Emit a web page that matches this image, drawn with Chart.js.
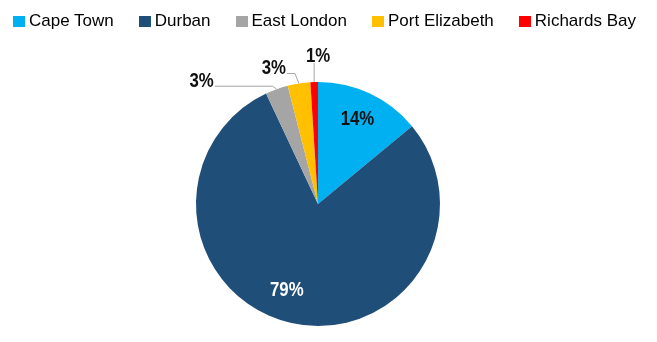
<!DOCTYPE html>
<html>
<head>
<meta charset="utf-8">
<script src="https://cdn.jsdelivr.net/npm/chart.js@4"></script>
<style>
  html, body { margin: 0; padding: 0; background: #fff; }
  #wrap { position: relative; width: 657px; height: 342px; }
  #portLegend {
       position: absolute; left: 13px; top: 11px;
       display: flex; align-items: center;
       font-family: 'Liberation Sans', Arial, sans-serif; font-size: 17px; line-height: 20px; color: #000;
  }
  #portLegend .item { display: flex; align-items: center; margin-right: 25px; white-space: nowrap; }
  #portLegend .box { width: 12px; height: 11px; margin-right: 4px; }
  #portPieChart { position: absolute; left: 0; top: 0; }
</style>
</head>
<body>
<div id="wrap">
  <canvas id="portPieChart" width="657" height="342"></canvas>
  <div id="portLegend"></div>
</div>
<script>
// port share data
var ports = ["Cape Town", "Durban", "East London", "Port Elizabeth", "Richards Bay"];
var shares = [14, 79, 3, 3, 1];
var sliceColors = ["#00B0F0", "#1F4E79", "#A5A5A5", "#FFC000", "#FF0000"];

var labelFont = "bold 21px 'Liberation Sans', Arial, sans-serif";
var labelSqueeze = 0.8; // narrow look of the original labels

// inside label nudges (px) for the big slices
var insideNudge = { 0: [0, -1], 1: [-11, -4] };

// callout styling for the small slices (rise above the arc, then horizontal run)
var callouts = {
     2: { rise: 3, run: -62 },
     3: { rise: 10, run: -12 },
     4: { rise: 19, run: 0 }
};

function drawLabel(ctx, txt, x, y) {
     ctx.save();
     ctx.translate(x, y);
     ctx.scale(labelSqueeze, 1);
     ctx.fillText(txt, 0, 0);
     ctx.restore();
}

// percentage labels, inside for big slices, with leader lines for small ones
var sliceLabels = {
     id: 'sliceLabels',
     afterDatasetsDraw: function (chart) {
          var ctx = chart.ctx;
          var meta = chart.getDatasetMeta(0);
          ctx.save();
          ctx.font = labelFont;
          meta.data.forEach(function (arc, i) {
               var p = arc.getProps(['x', 'y', 'startAngle', 'endAngle', 'outerRadius'], true);
               var mid = (p.startAngle + p.endAngle) / 2;
               var txt = shares[i] + '%';
               var c = callouts[i];
               if (!c) {
                    var r = p.outerRadius * 0.76;
                    var n = insideNudge[i] || [0, 0];
                    ctx.fillStyle = i === 1 ? '#FFFFFF' : '#111111';
                    ctx.textAlign = 'center';
                    ctx.textBaseline = 'middle';
                    drawLabel(ctx, txt, p.x + Math.cos(mid) * r + n[0], p.y + Math.sin(mid) * r + n[1]);
                    return;
               }
               var ox = p.x + Math.cos(mid) * p.outerRadius;
               var oy = p.y + Math.sin(mid) * p.outerRadius;
               var ey = oy - c.rise;
               var ex = ox + c.run;
               ctx.strokeStyle = '#A6A6A6';
               ctx.lineWidth = 1;
               ctx.beginPath();
               ctx.moveTo(ox, oy);
               ctx.lineTo(ox + (c.run ? (c.run < 0 ? -4 : 4) : 0), ey);
               ctx.lineTo(ex, ey);
               ctx.stroke();
               ctx.fillStyle = '#111111';
               if (c.run === 0) {
                    ctx.textAlign = 'center';
                    ctx.textBaseline = 'middle';
                    drawLabel(ctx, txt, ex + 4, ey - 7);
               } else {
                    ctx.textAlign = 'right';
                    ctx.textBaseline = 'middle';
                    drawLabel(ctx, txt, ex - 1, ey - 5);
               }
          });
          ctx.restore();
     }
};

// html legend built from the chart's own legend items
var htmlLegend = {
     id: 'htmlLegend',
     afterUpdate: function (chart) {
          var box = document.getElementById('portLegend');
          box.innerHTML = '';
          var items = chart.options.plugins.legend.labels.generateLabels(chart);
          items.forEach(function (item) {
               var el = document.createElement('span');
               el.className = 'item';
               var sw = document.createElement('span');
               sw.className = 'box';
               sw.style.background = item.fillStyle;
               el.appendChild(sw);
               el.appendChild(document.createTextNode(item.text));
               box.appendChild(el);
          });
     }
};

function createPortPieChart() {
     var ctx = document.getElementById('portPieChart').getContext('2d');

     window.portPieChart = new Chart(ctx, {
          type: 'pie',
          data: {
               labels: ports,
               datasets: [{
                    data: shares,
                    backgroundColor: sliceColors,
                    borderWidth: 0
               }]
          },
          options: {
               responsive: false,
               animation: false,
               layout: {
                    padding: { left: 0, right: 21, top: 82, bottom: 16 }
               },
               plugins: {
                    legend: { display: false },
                    tooltip: { enabled: false }
               }
          },
          plugins: [sliceLabels, htmlLegend]
     });
}
document.addEventListener('DOMContentLoaded', function () {
     createPortPieChart();
});
</script>
</body>
</html>
